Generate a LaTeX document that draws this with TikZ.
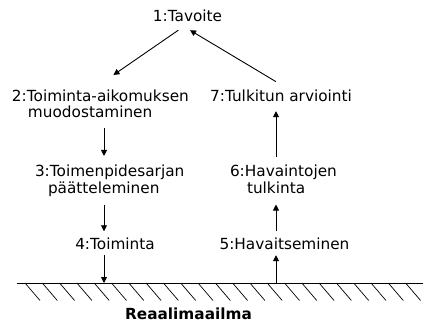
\documentclass[tikz,border=0pt]{standalone}
\usepackage{fontspec}
\setmainfont{DejaVu Sans}
\usetikzlibrary{arrows.meta}
\begin{document}
\begin{tikzpicture}[x=1pt,y=-1pt,
  lbl/.style={inner sep=0pt, outer sep=0pt, font=\fontsize{15.3}{16.6}\selectfont},
  arr/.style={-{Triangle[length=6pt,width=6pt]}, line width=0.9pt},
  groundline/.style={line width=0.9pt},
  hatch/.style={line width=0.7pt}]
\path[use as bounding box] (0,0) rectangle (423,329);
% labels
\node[lbl, anchor=base] (n1) at (187.5,21.7) {1:Tavoite};
\node[lbl, anchor=base west, align=left] (n2) at (12,117.6) {2:Toiminta-aikomuksen\\\hspace*{16pt}muodostaminen};
\node[lbl, anchor=base] (n7) at (281,101) {7:Tulkitun arviointi};
\node[lbl, anchor=base west, align=left] (n3) at (35,193.3) {3:Toimenpidesarjan\\\hspace*{13pt}päätteleminen};
\node[lbl, anchor=base west, align=left] (n6) at (230,193.3) {6:Havaintojen\\\hspace*{17pt}tulkinta};
\node[lbl, anchor=base] (n4) at (115,249.3) {4:Toiminta};
\node[lbl, anchor=base] (n5) at (284.5,249.3) {5:Havaitseminen};
\node[lbl, anchor=base, font=\fontsize{15.3}{16.6}\selectfont\bfseries] (world) at (188.5,319.3) {Reaalimaailma};
% helper coordinates
\coordinate (colL) at (104,0);
\coordinate (colR) at (276,0);
\coordinate (g4) at (104,283);
\coordinate (g5) at (276,283);
% ground
\draw[groundline] (17,283) -- (423,283);
\foreach \k in {0,...,22} \draw[hatch] ({25+17.3*\k},283) -- ({40+17.3*\k},300.5);
% arrows
\draw[arr] ([shift={(-9.2,8.3)}]n1.south) -- ([shift={(13,-14.4)}]n2.north);
\draw[arr] ([shift={(-5,-7.7)}]n7.north) -- ([shift={(2.5,8.3)}]n1.south);
\draw[arr, shorten <=10.6pt, shorten >=9.1pt] (n2.south -| colL) -- (n3.north -| colL);
\draw[arr, shorten <=8.4pt, shorten >=6.4pt] (n3.south -| colL) -- (n4.north -| colL);
\draw[arr, shorten <=5pt] (n4.south -| colL) -- (g4);
\draw[arr, shorten >=5.7pt] (g5) -- (n5.south -| colR);
\draw[arr, shorten <=6.4pt, shorten >=11pt] (n5.north -| colR) -- (n6.south -| colR);
\draw[arr, shorten <=8.4pt, shorten >=10pt] (n6.north -| colR) -- (n7.south -| colR);
\end{tikzpicture}
\end{document}
